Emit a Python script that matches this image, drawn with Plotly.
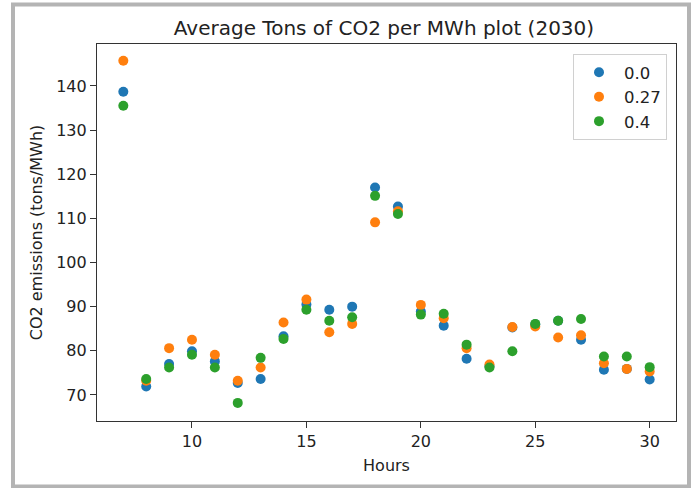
import plotly.graph_objects as go

hours = list(range(7, 31))
series_names = ["0.0", "0.27", "0.4"]
vals_00 = [138.7, 71.9, 77.0, 79.9, 77.6, 72.7, 73.6, 83.3, 90.5, 89.3, 90.0, 117.0,
           112.7, 88.9, 85.7, 78.2, 76.5, 85.3, 86.0, 86.8, 82.5, 75.7, 75.9, 73.5]
vals_027 = [145.7, 73.2, 80.6, 82.5, 79.1, 73.2, 76.2, 86.4, 91.6, 84.2, 86.1, 109.1,
            111.6, 90.4, 87.4, 80.6, 76.9, 85.4, 85.5, 83.0, 83.5, 77.2, 75.9, 75.3]
vals_04 = [135.5, 73.6, 76.2, 79.1, 76.2, 68.2, 78.4, 82.7, 89.3, 86.8, 87.6, 115.1,
           111.0, 88.2, 88.4, 81.4, 76.2, 79.9, 86.1, 86.8, 87.2, 78.7, 78.7, 76.3]
colors = ["#1f77b4", "#ff7f0e", "#2ca02c"]
x_ticks = [10, 15, 20, 25, 30]
y_ticks = [70, 80, 90, 100, 110, 120, 130, 140]

FONT = "DejaVu Sans"
TXT = "#222222"

fig = go.Figure()
for name, vals, c in zip(series_names, [vals_00, vals_027, vals_04], colors):
    fig.add_trace(go.Scatter(x=hours, y=vals, mode="markers", name=name,
                             marker=dict(color=c, size=10, line=dict(width=0))))

W, H = 692, 488
L, R, T, B = 97, 16, 44, 67
pw, ph = W - L - R, H - T - B

def px_x(p):
    return (p - L) / pw

def px_y(p):
    return (H - B - p) / ph

fig.add_shape(type="rect", xref="paper", yref="paper",
              x0=px_x(13), x1=px_x(689), y0=px_y(486.5), y1=px_y(4.5),
              line=dict(color="#b4b4b4", width=4), fillcolor="rgba(0,0,0,0)", layer="above")

axis_common = dict(showline=True, linecolor="#333333", linewidth=1.2, mirror=True,
                   ticks="outside", ticklen=6, tickwidth=1.2, tickcolor="#333333",
                   showgrid=False, zeroline=False,
                   tickfont=dict(family=FONT, size=16, color=TXT))

fig.update_layout(
    width=W, height=H,
    margin=dict(l=L, r=R, t=T, b=B),
    paper_bgcolor="white", plot_bgcolor="white",
    font=dict(family=FONT, color=TXT),
    title=dict(text="Average Tons of CO2 per MWh plot (2030)", x=px_x(384), xanchor="center",
               xref="paper", y=1 - 28 / H, yref="container", yanchor="middle",
               font=dict(family=FONT, size=20, color=TXT)),
    xaxis=dict(range=[5.85, 31.15], tickvals=x_ticks,
               title=dict(text="Hours", font=dict(family=FONT, size=16, color=TXT), standoff=9),
               **axis_common),
    yaxis=dict(range=[64.1, 149.5], tickvals=y_ticks,
               title=dict(text="CO2 emissions (tons/MWh)", font=dict(family=FONT, size=16, color=TXT), standoff=9),
               **axis_common),
    legend=dict(x=px_x(667), xanchor="right", y=px_y(54), yanchor="top",
                bgcolor="white", bordercolor="#d0d0d0", borderwidth=1,
                font=dict(family=FONT, size=16.5, color=TXT), itemwidth=40,
                tracegroupgap=0),
    showlegend=True,
)

fig.write_html("out.html", config={"displayModeBar": False},
               post_script="document.body.style.margin='0';")
